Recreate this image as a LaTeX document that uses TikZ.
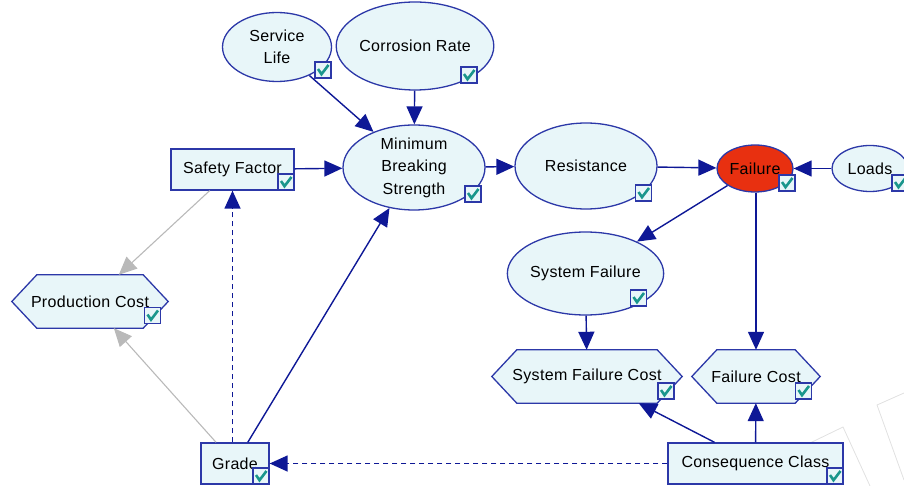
\documentclass[tikz,border=0pt]{standalone}
\usepackage{fontspec}
\setmainfont{Liberation Sans}[LetterSpace=2]
\usetikzlibrary{arrows.meta,shapes.geometric,backgrounds}
\definecolor{nodefill}{RGB}{232,246,249}
\definecolor{boxblue}{RGB}{44,56,168}
\definecolor{edgeblue}{RGB}{14,24,150}
\definecolor{failred}{RGB}{232,48,16}
\definecolor{checkteal}{RGB}{26,150,140}
\definecolor{linkgray}{RGB}{185,185,185}
\definecolor{wmgray}{RGB}{225,225,225}
\tikzset{
  every node/.style={font=\fontsize{16}{22.5}\selectfont, text=black},
  ell/.style={ellipse, draw=boxblue, fill=nodefill, line width=1.3pt, inner sep=0pt, align=center},
  rectbox/.style={rectangle, draw=boxblue, fill=nodefill, line width=1.3pt, inner sep=0pt, align=center},
  hexbox/.style={rectangle, inner sep=0pt, align=center},
  hexline/.style={draw=boxblue, fill=nodefill, line width=1.3pt, line join=miter},
  link/.style={draw=edgeblue, line width=1.4pt, -{Triangle[length=18pt,width=16pt]}},
  dlink/.style={link, dash pattern=on 5pt off 4pt},
  glink/.style={draw=linkgray, line width=1.1pt, -{Triangle[length=18pt,width=16pt]}},
  wmline/.style={draw=wmgray, line width=0.8pt},
  chk/.pic={
    \draw[draw=boxblue, fill=nodefill, line width=1.3pt] (-8,-8) rectangle (8,8);
    \draw[draw=checkteal, line width=2.6pt] (-5,-1) -- (-1.5,4.2) -- (5.5,-5);
  }
}
\begin{document}
\begin{tikzpicture}[x=1pt,y=-1pt]
\useasboundingbox (0,0) rectangle (904,486);

% nodes
\node[ell, minimum width=109pt, minimum height=69pt] (sl) at (277,47) {Service\\Life};
\node[ell, minimum width=136pt, minimum height=88pt] (cr) at (415,46) {Corrosion Rate};
\node[ell, minimum width=142pt, minimum height=85pt] (mbs) at (414,167.5) {Minimum\\Breaking\\Strength};
\node[rectbox, minimum width=123pt, minimum height=41pt] (sf) at (232.5,169.5) {Safety Factor};
\node[ell, minimum width=142pt, minimum height=86pt] (res) at (586,166) {Resistance};
\node[ell, fill=failred, minimum width=76pt, minimum height=47pt] (fail) at (755,168.5) {Failure};
\node[ell, minimum width=76pt, minimum height=46pt] (loads) at (870,168.5) {Loads};
\node[ell, minimum width=135pt, minimum height=83pt] (sysf) at (585.5,273.5) {System Failure};
\node[hexbox, minimum width=156pt, minimum height=53pt] (pc) at (90,301.5) {Production Cost};
\node[hexbox, minimum width=190pt, minimum height=53pt] (sfc) at (587,376.5) {System Failure Cost};
\node[hexbox, minimum width=128pt, minimum height=53pt] (fc) at (756,376.5) {Failure Cost};
\node[rectbox, minimum width=68pt, minimum height=41pt] (grade) at (235,463.5) {Grade};
\node[rectbox, minimum width=175pt, minimum height=41pt] (cc) at (755.5,463.5) {Consequence Class};

% hexagon outlines and faint watermark behind everything
\begin{scope}[on background layer]
  \draw[wmline] (810,443) -- (843,427) -- (870,486);
  \draw[wmline] (904,393) -- (877,405) -- (904,480);
  \foreach \n in {pc,sfc,fc}
    \draw[hexline] (\n.west) -- ([xshift=25pt]\n.north west) -- ([xshift=-25pt]\n.north east)
      -- (\n.east) -- ([xshift=-25pt]\n.south east) -- ([xshift=25pt]\n.south west) -- cycle;
\end{scope}

% connectors
\draw[link] (sl) -- (mbs);
\draw[link] (cr) -- (mbs);
\draw[link] (sf) -- (mbs);
\draw[link] (mbs) -- (res);
\draw[link] (res) -- (fail);
\draw[link] (loads) -- (fail);
\draw[link] (fail) -- (sysf);
\draw[link] (fail.south -| fc.north) -- (fc.north);
\draw[link] (sysf) -- (sfc);
\draw[link] (cc) -- (sfc);
\draw[link] (cc) -- (fc);
\draw[dlink] (cc) -- (grade);
\draw[dlink] (grade.north -| sf.south) -- (sf.south);
\draw[link] (grade) -- (mbs);
\draw[glink] (grade) -- (pc);
\draw[glink] (sf) -- (pc);

% check boxes
\pic at (323,70) {chk};
\pic at (469,75) {chk};
\pic at (473,194) {chk};
\pic at (286,182) {chk};
\pic at (643.5,193) {chk};
\pic at (787,183) {chk};
\pic at (900,183) {chk};
\pic at (638.5,298) {chk};
\pic at (152.5,315.5) {chk};
\pic at (666,391) {chk};
\pic at (803.5,391) {chk};
\pic at (261,476) {chk};
\pic at (835,476) {chk};
\end{tikzpicture}
\end{document}
